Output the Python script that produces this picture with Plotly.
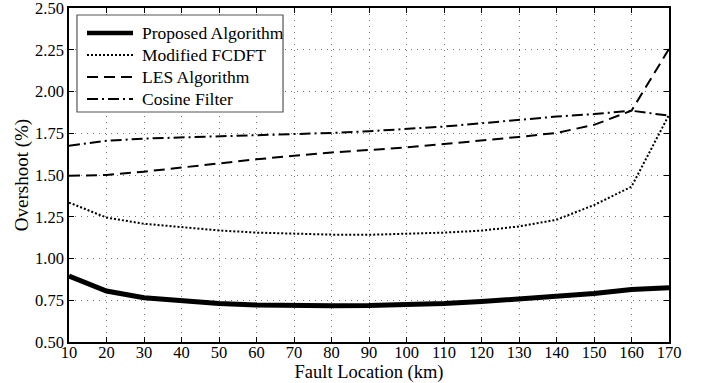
import plotly.graph_objects as go

fault_km = [10, 20, 30, 40, 50, 60, 70, 80, 90, 100, 110, 120, 130, 140, 150, 160, 170]
proposed = [0.895, 0.805, 0.765, 0.745, 0.730, 0.722, 0.718, 0.717, 0.718, 0.722, 0.730, 0.742, 0.756, 0.772, 0.790, 0.815, 0.825]
modified_fcdft = [1.335, 1.245, 1.208, 1.187, 1.168, 1.155, 1.147, 1.143, 1.142, 1.148, 1.155, 1.167, 1.192, 1.232, 1.320, 1.430, 1.860]
les = [1.495, 1.500, 1.520, 1.545, 1.570, 1.594, 1.615, 1.635, 1.650, 1.665, 1.685, 1.705, 1.728, 1.752, 1.800, 1.885, 2.255]
cosine = [1.675, 1.705, 1.718, 1.725, 1.730, 1.736, 1.745, 1.752, 1.762, 1.776, 1.790, 1.810, 1.830, 1.850, 1.865, 1.885, 1.855]

series_names = ["Proposed Algorithm", "Modified FCDFT", "LES Algorithm", "Cosine Filter"]
x_ticks = list(range(10, 171, 10))
y_ticks = [0.5, 0.75, 1.0, 1.25, 1.5, 1.75, 2.0, 2.25, 2.5]

FONT = "Liberation Serif"
styles = [
    dict(color="black", width=5),
    dict(color="black", width=2, dash="2px,2px"),
    dict(color="black", width=2, dash="11px,6px"),
    dict(color="black", width=2, dash="11px,4px,2px,4px"),
]
series_values = [proposed, modified_fcdft, les, cosine]

fig = go.Figure()
for name, vals, st in zip(series_names, series_values, styles):
    fig.add_trace(go.Scatter(x=fault_km, y=vals, mode="lines", name=name,
                             line=st, showlegend=False))

axis_common = dict(
    showline=True, linecolor="black", linewidth=1.5, mirror="ticks",
    ticks="inside", ticklen=5, tickcolor="black", tickwidth=1,
    showgrid=True, gridcolor="#777777", gridwidth=1, griddash="1px,5px",
    zeroline=False, tickfont=dict(family=FONT, size=16.5, color="black"),
    automargin=False, ticklabeloverflow="allow",
)

fig.update_xaxes(range=[10, 170], tickvals=x_ticks, ticklabelstandoff=-6,
                 title=dict(text="Fault Location (km)",
                            font=dict(family=FONT, size=18.5, color="black"), standoff=5),
                 **axis_common)
fig.update_yaxes(range=[0.5, 2.5], tickvals=y_ticks, tickformat=".2f",
                 title=dict(text="Overshoot (%)", font=dict(family=FONT, size=19, color="black"), standoff=1),
                 **axis_common)

# Legend drawn in plot-area (paper) coordinates
box_x0, box_x1, box_y0, box_y1 = 0.0133, 0.3567, 0.6886, 0.979
fig.add_shape(type="rect", xref="paper", yref="paper", x0=box_x0, x1=box_x1, y0=box_y0, y1=box_y1,
              line=dict(color="#555555", width=1.2), fillcolor="white", layer="above")
entry_y = [0.9251, 0.8593, 0.7934, 0.7275]
for name, st, yy in zip(series_names, styles, entry_y):
    fig.add_shape(type="line", xref="paper", yref="paper", x0=0.030, x1=0.1067, y0=yy, y1=yy,
                  line=dict(color=st["color"], width=st["width"] if st["width"] < 5 else 4.5,
                            dash=st.get("dash", "solid")), layer="above")
    fig.add_annotation(x=0.1183, y=yy, xref="paper", yref="paper", text=name, showarrow=False,
                       xanchor="left", yanchor="middle",
                       font=dict(family=FONT, size=17.5, color="black"))

fig.update_layout(
    width=712, height=383,
    margin=dict(l=69, r=43, t=8, b=41, autoexpand=False),
    plot_bgcolor="white", paper_bgcolor="white",
    font=dict(family=FONT, size=16, color="black"),
    showlegend=False,
)

fig.write_html("out.html", post_script="document.body.style.margin='0';",
               config={"displayModeBar": False})
